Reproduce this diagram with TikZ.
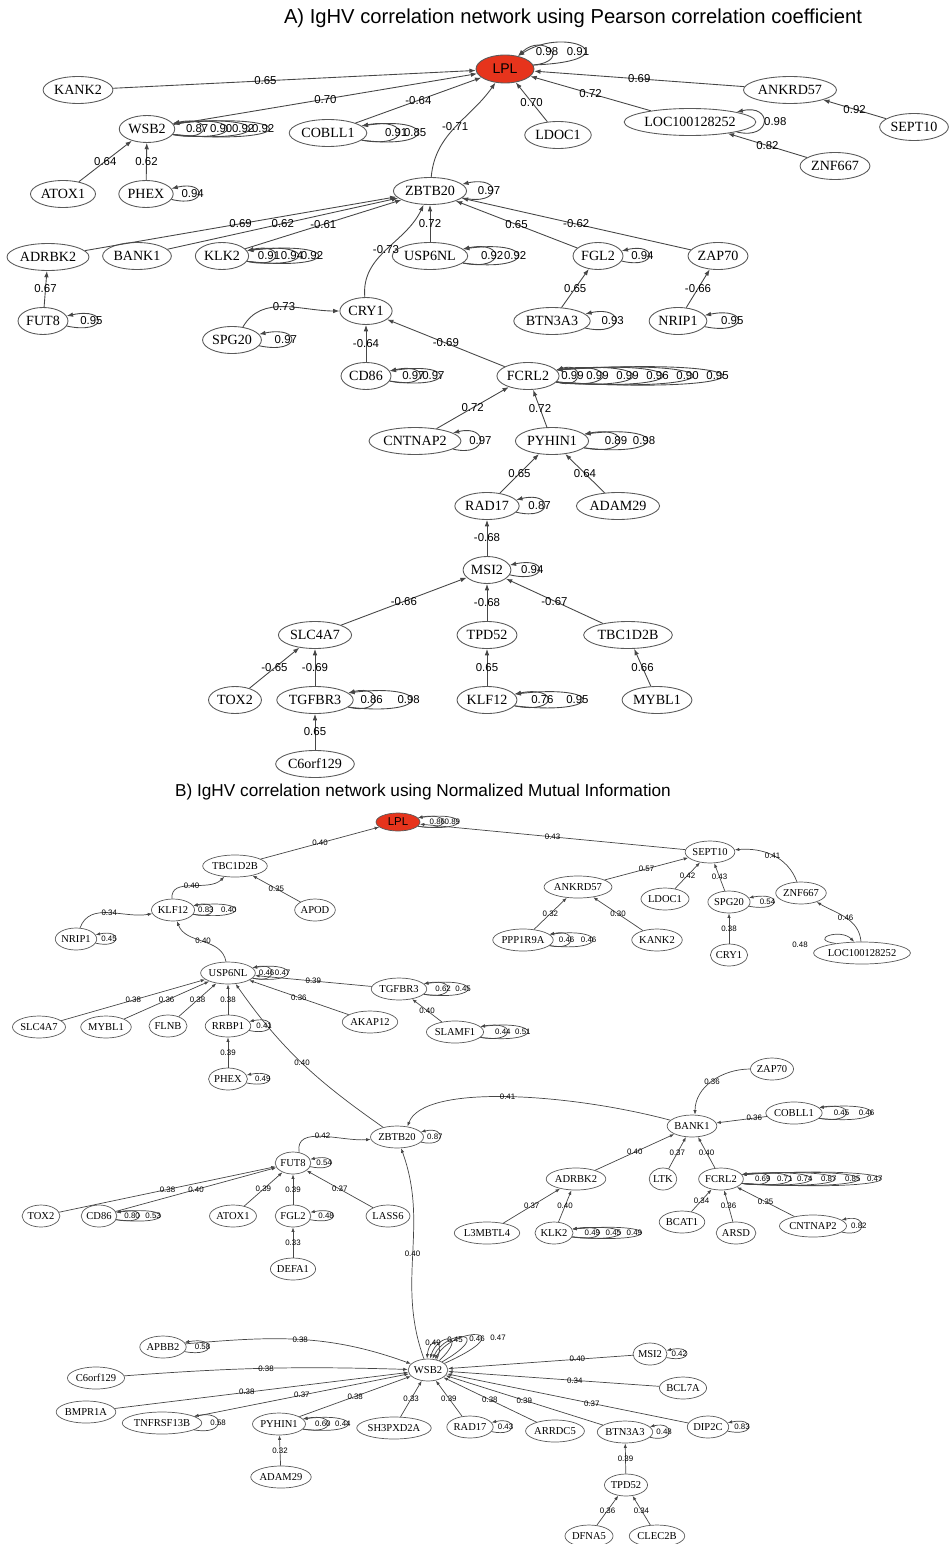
\documentclass[tikz,border=0pt]{standalone}
\usepackage{fontspec}
\setmainfont{Liberation Serif}
\setsansfont{Liberation Sans}
\usepackage{tikz}
\usetikzlibrary{arrows.meta}
\usetikzlibrary{shapes.geometric}
\usetikzlibrary{calc}

\definecolor{lplred}{RGB}{230,52,28}
\definecolor{edgegray}{RGB}{70,70,70}
\definecolor{rimgray}{RGB}{90,90,90}

\newcommand{\loopht}{8}
\newcommand{\geneloop}[4][]{%
  \draw[arr,#1] (#2.-12) .. controls +({(#3+8)/0.75},{\loopht+0.04*#3}) and +({(#3+8)/0.75},{-\loopht-0.04*#3}) .. (#2.12);
  \node[lab] at ($(#2.east)+(#3,0)$) {#4};}

\begin{document}
\begin{tikzpicture}[x=0.02cm,y=-0.02cm,
  title/.style={font=\sffamily\fontsize{11.5}{13}\selectfont}]
\useasboundingbox (0,0) rectangle (949,1544);

\node[title] (titleA) at (573,18) {A) IgHV correlation network using Pearson correlation coefficient};
\node[title,font=\sffamily\fontsize{9.8}{11}\selectfont] (titleB) at (423,792) {B) IgHV correlation network using Normalized Mutual Information};

% A) Pearson
\begin{scope}[
  gene/.style={ellipse,draw=rimgray,line width=0.5pt,inner xsep=0.5pt,inner ysep=0pt,
    minimum height=0.54cm,font=\fontsize{8}{9}\selectfont},
  lab/.style={font=\sffamily\fontsize{6.5}{7}\selectfont,inner sep=0pt},
  arr/.style={draw=edgegray,line width=0.5pt,-{Latex[length=3.6pt,width=2.6pt]}}]

\node[gene,fill=lplred,font=\sffamily\fontsize{8}{9}\selectfont,minimum width=1.16cm,minimum height=0.56cm] (lplA) at (505,69) {LPL};
\node[gene] (kank2A) at (78,90) {KANK2};
\node[gene] (wsb2A) at (147,129) {WSB2};
\node[gene] (cobll1A) at (328,133) {COBLL1};
\node[gene] (ldoc1A) at (558,135) {LDOC1};
\node[gene] (ankrd57A) at (790,90) {ANKRD57};
\node[gene] (locA) at (690,122) {LOC100128252};
\node[gene] (sept10A) at (914,127) {SEPT10};
\node[gene] (znf667A) at (835,166) {ZNF667};
\node[gene] (atox1A) at (63,194) {ATOX1};
\node[gene] (phexA) at (146,194) {PHEX};
\node[gene] (zbtb20A) at (430,191) {ZBTB20};
\node[gene] (adrbk2A) at (48,257) {ADRBK2};
\node[gene] (bank1A) at (137,256) {BANK1};
\node[gene] (klk2A) at (222,256) {KLK2};
\node[gene] (usp6nlA) at (430,256) {USP6NL};
\node[gene] (fgl2A) at (598,256) {FGL2};
\node[gene] (zap70A) at (718,256) {ZAP70};
\node[gene] (fut8A) at (43,321) {FUT8};
\node[gene] (btn3a3A) at (552,321) {BTN3A3};
\node[gene] (nrip1A) at (678,321) {NRIP1};
\node[gene] (cry1A) at (366,311) {CRY1};
\node[gene] (spg20A) at (232,340) {SPG20};
\node[gene] (cd86A) at (366,376) {CD86};
\node[gene] (fcrl2A) at (528,376) {FCRL2};
\node[gene] (cntnap2A) at (415,441) {CNTNAP2};
\node[gene] (pyhin1A) at (552,441) {PYHIN1};
\node[gene] (rad17A) at (487,506) {RAD17};
\node[gene] (adam29A) at (618,506) {ADAM29};
\node[gene] (msi2A) at (487,570) {MSI2};
\node[gene] (slc4a7A) at (315,635) {SLC4A7};
\node[gene] (tpd52A) at (487,635) {TPD52};
\node[gene] (tbc1d2bA) at (628,635) {TBC1D2B};
\node[gene] (tox2A) at (235,700) {TOX2};
\node[gene] (tgfbr3A) at (315,700) {TGFBR3};
\node[gene] (klf12A) at (487,700) {KLF12};
\node[gene] (mybl1A) at (657,700) {MYBL1};
\node[gene] (c6orfA) at (315,764) {C6orf129};

\draw[arr] (kank2A) -- node[lab,pos=0.42] {0.65} (lplA);
\draw[arr] (wsb2A) -- node[lab] {0.70} (lplA);
\draw[arr] (cobll1A) -- node[lab] {-0.64} (lplA);
\draw[arr] (zbtb20A) to[out=85,in=235] node[lab] {-0.71} (lplA);
\draw[arr] (ldoc1A) -- node[lab] {0.70} (lplA);
\draw[arr] (locA) -- node[lab] {0.72} (lplA);
\draw[arr] (ankrd57A) -- node[lab] {0.69} (lplA);
\draw[arr] (sept10A) -- node[lab] {0.92} (ankrd57A);
\draw[arr] (znf667A) -- node[lab] {0.82} (locA);
\draw[arr] (atox1A) -- node[lab] {0.64} (wsb2A);
\draw[arr] (phexA) -- node[lab] {0.62} (wsb2A);
\draw[arr] (adrbk2A) -- node[lab] {0.69} (zbtb20A);
\draw[arr] (bank1A) -- node[lab] {0.62} (zbtb20A);
\draw[arr] (klk2A) -- node[lab] {-0.61} (zbtb20A);
\draw[arr] (usp6nlA) -- node[lab] {0.72} (zbtb20A);
\draw[arr] (cry1A) to[out=95,in=245] node[lab] {-0.73} (zbtb20A);
\draw[arr] (fgl2A) -- node[lab] {0.65} (zbtb20A);
\draw[arr] (zap70A) -- node[lab] {-0.62} (zbtb20A);
\draw[arr] (fut8A) -- node[lab] {0.67} (adrbk2A);
\draw[arr] (btn3a3A) -- node[lab] {0.65} (fgl2A);
\draw[arr] (nrip1A) -- node[lab] {-0.66} (zap70A);
\draw[arr] (spg20A.50) to[out=60,in=180] node[lab] {0.73} (cry1A);
\draw[arr] (cd86A) -- node[lab] {-0.64} (cry1A);
\draw[arr] (fcrl2A) -- node[lab] {-0.69} (cry1A);
\draw[arr] (cntnap2A) -- node[lab] {0.72} (fcrl2A);
\draw[arr] (pyhin1A) -- node[lab] {0.72} (fcrl2A);
\draw[arr] (rad17A) -- node[lab] {0.65} (pyhin1A);
\draw[arr] (adam29A) -- node[lab] {0.64} (pyhin1A);
\draw[arr] (msi2A) -- node[lab] {-0.68} (rad17A);
\draw[arr] (slc4a7A) -- node[lab] {-0.66} (msi2A);
\draw[arr] (tpd52A) -- node[lab] {-0.68} (msi2A);
\draw[arr] (tbc1d2bA) -- node[lab] {-0.67} (msi2A);
\draw[arr] (tox2A) -- node[lab] {-0.65} (slc4a7A);
\draw[arr] (tgfbr3A) -- node[lab] {-0.69} (slc4a7A);
\draw[arr] (klf12A) -- node[lab] {0.65} (tpd52A);
\draw[arr] (mybl1A) -- node[lab] {0.66} (tbc1d2bA);
\draw[arr] (c6orfA) -- node[lab] {0.65} (tgfbr3A);

% self loops
\draw[arr] (lplA.8) .. controls +(40,-4) and +(25,-24) .. (lplA.45);
\draw[arr] (lplA.8) .. controls +(100,-4) and +(50,-32) .. (lplA.45);
\node[lab] at (547,52) {0.98};
\node[lab] at (578,52) {0.91};
\geneloop{wsb2A}{22}{0.87}
\geneloop{wsb2A}{46}{0.90}
\geneloop{wsb2A}{68}{0.92}
\geneloop{wsb2A}{88}{0.92}
\geneloop{cobll1A}{29}{0.91}
\geneloop{cobll1A}{48}{0.85}
\geneloop{locA}{19}{0.98}
\geneloop{phexA}{19}{0.94}
\geneloop{zbtb20A}{22}{0.97}
\geneloop{klk2A}{20}{0.91}
\geneloop{klk2A}{43}{0.94}
\geneloop{klk2A}{63}{0.92}
\geneloop{usp6nlA}{24}{0.92}
\geneloop{usp6nlA}{47}{0.92}
\geneloop{fgl2A}{19}{0.94}
\geneloop{fut8A}{23}{0.95}
\geneloop{btn3a3A}{22}{0.93}
\geneloop{nrip1A}{25}{0.95}
\geneloop{spg20A}{24}{0.97}
\geneloop{cd86A}{22}{0.97}
\geneloop{cd86A}{42}{0.97}
\geneloop{fcrl2A}{13}{0.99}
\geneloop{fcrl2A}{38}{0.99}
\geneloop{fcrl2A}{68}{0.99}
\geneloop{fcrl2A}{98}{0.96}
\geneloop{fcrl2A}{128}{0.90}
\geneloop{fcrl2A}{158}{0.95}
\geneloop{cntnap2A}{19}{0.97}
\geneloop{pyhin1A}{27}{0.89}
\geneloop{pyhin1A}{55}{0.98}
\geneloop{rad17A}{20}{0.87}
\geneloop{msi2A}{21}{0.94}
\geneloop{tgfbr3A}{18}{0.86}
\geneloop{tgfbr3A}{55}{0.98}
\geneloop{klf12A}{25}{0.76}
\geneloop{klf12A}{60}{0.95}
\end{scope}

% B) mutual information
\begin{scope}[
  gene/.style={ellipse,draw=rimgray,line width=0.4pt,inner xsep=0pt,inner ysep=0pt,
    minimum height=0.44cm,font=\fontsize{6}{7}\selectfont},
  lab/.style={font=\sffamily\fontsize{4.5}{5}\selectfont,inner sep=0pt},
  arr/.style={draw=edgegray,line width=0.4pt,-{Latex[length=2.6pt,width=1.9pt]}}]
\renewcommand{\loopht}{5.5}

\node[gene,fill=lplred,font=\sffamily\fontsize{6.5}{7}\selectfont,minimum width=0.88cm,minimum height=0.36cm] (lplB) at (398,822) {LPL};
\node[gene] (sept10B) at (710,852) {SEPT10};
\node[gene] (tbc1d2bB) at (235,866) {TBC1D2B};
\node[gene] (ankrd57B) at (578,887) {ANKRD57};
\node[gene] (ldoc1B) at (665,899) {LDOC1};
\node[gene] (spg20B) at (729,902) {SPG20};
\node[gene] (znf667B) at (801,893) {ZNF667};
\node[gene] (klf12B) at (173,910) {KLF12};
\node[gene] (apodB) at (315,910) {APOD};
\node[gene] (nrip1B) at (76,939) {NRIP1};
\node[gene] (ppp1r9aB) at (523,940) {PPP1R9A};
\node[gene] (kank2B) at (657,940) {KANK2};
\node[gene] (cry1B) at (729,955) {CRY1};
\node[gene] (locB) at (862,953) {LOC100128252};
\node[gene] (usp6nlB) at (228,973) {USP6NL};
\node[gene] (tgfbr3B) at (399,989) {TGFBR3};
\node[gene] (slc4a7B) at (39,1027) {SLC4A7};
\node[gene] (mybl1B) at (106,1027) {MYBL1};
\node[gene] (flnbB) at (168,1026) {FLNB};
\node[gene] (rrbp1B) at (228,1026) {RRBP1};
\node[gene] (akap12B) at (370,1022) {AKAP12};
\node[gene] (slamf1B) at (455,1032) {SLAMF1};
\node[gene] (phexB) at (228,1079) {PHEX};
\node[gene] (zap70B) at (772,1069) {ZAP70};
\node[gene] (cobll1B) at (794,1113) {COBLL1};
\node[gene] (bank1B) at (692,1126) {BANK1};
\node[gene] (zbtb20B) at (397,1137) {ZBTB20};
\node[gene] (fut8B) at (293,1163) {FUT8};
\node[gene] (adrbk2B) at (576,1179) {ADRBK2};
\node[gene] (ltkB) at (663,1179) {LTK};
\node[gene] (fcrl2B) at (721,1179) {FCRL2};
\node[gene] (tox2B) at (41,1216) {TOX2};
\node[gene] (cd86B) at (99,1216) {CD86};
\node[gene] (atox1B) at (233,1216) {ATOX1};
\node[gene] (fgl2B) at (293,1216) {FGL2};
\node[gene] (lass6B) at (388,1216) {LASS6};
\node[gene] (bcat1B) at (682,1222) {BCAT1};
\node[gene] (cntnap2B) at (813,1226) {CNTNAP2};
\node[gene] (l3mbtl4B) at (487,1233) {L3MBTL4};
\node[gene] (klk2B) at (554,1233) {KLK2};
\node[gene] (arsdB) at (736,1233) {ARSD};
\node[gene] (defa1B) at (293,1269) {DEFA1};
\node[gene] (apbb2B) at (163,1347) {APBB2};
\node[gene] (msi2B) at (650,1354) {MSI2};
\node[gene] (wsb2B) at (428,1370) {WSB2};
\node[gene] (c6orfB) at (96,1378) {C6orf129};
\node[gene] (bcl7aB) at (683,1388) {BCL7A};
\node[gene] (bmpr1aB) at (86,1412) {BMPR1A};
\node[gene] (tnfrsf13bB) at (162,1423) {TNFRSF13B};
\node[gene] (pyhin1B) at (279,1424) {PYHIN1};
\node[gene] (sh3pxd2aB) at (394,1428) {SH3PXD2A};
\node[gene] (rad17B) at (470,1427) {RAD17};
\node[gene] (arrdc5B) at (555,1431) {ARRDC5};
\node[gene] (btn3a3B) at (625,1432) {BTN3A3};
\node[gene] (dip2cB) at (708,1427) {DIP2C};
\node[gene] (adam29B) at (281,1477) {ADAM29};
\node[gene] (tpd52B) at (626,1485) {TPD52};
\node[gene] (dfna5B) at (589,1536) {DFNA5};
\node[gene] (clec2bB) at (657,1536) {CLEC2B};

\draw[arr] (tbc1d2bB) -- node[lab] {0.40} (lplB);
\draw[arr] (sept10B) -- node[lab] {0.43} (lplB);
\draw[arr] (klf12B) to[out=95,in=225] node[lab] {0.40} (tbc1d2bB);
\draw[arr] (apodB) -- node[lab] {0.35} (tbc1d2bB);
\draw[arr] (nrip1B) to[out=70,in=190] node[lab] {0.34} (klf12B);
\draw[arr] (usp6nlB) to[out=100,in=-70] node[lab] {0.40} (klf12B);
\draw[arr] (slc4a7B) -- node[lab] {0.38} (usp6nlB);
\draw[arr] (mybl1B) -- node[lab] {0.36} (usp6nlB);
\draw[arr] (flnbB) -- node[lab] {0.38} (usp6nlB);
\draw[arr] (rrbp1B) -- node[lab] {0.38} (usp6nlB);
\draw[arr] (akap12B) -- node[lab] {0.36} (usp6nlB);
\draw[arr] (tgfbr3B) -- node[lab] {0.39} (usp6nlB);
\draw[arr] (zbtb20B) to[out=145,in=-55] node[lab] {0.40} (usp6nlB);
\draw[arr] (slamf1B) -- node[lab] {0.40} (tgfbr3B);
\draw[arr] (phexB) -- node[lab] {0.39} (rrbp1B);
\draw[arr] (ankrd57B) -- node[lab] {0.57} (sept10B);
\draw[arr] (ldoc1B) -- node[lab] {0.42} (sept10B);
\draw[arr] (spg20B) -- node[lab] {0.43} (sept10B);
\draw[arr] (znf667B) to[out=110,in=5] node[lab] {0.41} (sept10B);
\draw[arr] (ppp1r9aB) -- node[lab] {0.32} (ankrd57B);
\draw[arr] (kank2B) -- node[lab] {0.30} (ankrd57B);
\draw[arr] (cry1B) -- node[lab] {0.38} (spg20B);
\draw[arr] (locB) to[out=95,in=-30] node[lab] {0.46} (znf667B);
\draw[arr] (bank1B) to[out=165,in=70,out looseness=1,in looseness=0.45] node[lab] {0.41} (zbtb20B.45);
\draw[arr] (wsb2B) to[out=110,in=-70] node[lab] {0.40} (zbtb20B);
\draw[arr] (fut8B.60) to[out=100,in=185] node[lab] {0.42} (zbtb20B);
\draw[arr] (tox2B) -- node[lab] {0.38} (fut8B);
\draw[arr] (cd86B) -- node[lab] {0.40} (fut8B);
\draw[arr] (atox1B) -- node[lab] {0.39} (fut8B);
\draw[arr] (fgl2B) -- node[lab] {0.39} (fut8B);
\draw[arr] (lass6B) -- node[lab] {0.37} (fut8B);
\draw[arr] (defa1B) -- node[lab] {0.33} (fgl2B);
\draw[arr] (zap70B) to[out=180,in=90] node[lab] {0.36} (bank1B.75);
\draw[arr] (cobll1B) -- node[lab,pos=0.25] {0.36} (bank1B);
\draw[arr] (adrbk2B) -- node[lab] {0.40} (bank1B);
\draw[arr] (ltkB) -- node[lab] {0.37} (bank1B);
\draw[arr] (fcrl2B) -- node[lab] {0.40} (bank1B);
\draw[arr] (l3mbtl4B) -- node[lab] {0.37} (adrbk2B);
\draw[arr] (klk2B) -- node[lab] {0.40} (adrbk2B);
\draw[arr] (bcat1B) -- node[lab] {0.34} (fcrl2B);
\draw[arr] (arsdB) -- node[lab] {0.36} (fcrl2B);
\draw[arr] (cntnap2B) -- node[lab] {0.35} (fcrl2B);
\draw[arr] (apbb2B.8) to[out=5,in=160] node[lab] {0.38} (wsb2B);
\draw[arr] (c6orfB) to[bend left=3] node[lab] {0.38} (wsb2B);
\draw[arr] (bmpr1aB) -- node[lab,pos=0.45] {0.38} (wsb2B);
\draw[arr] (tnfrsf13bB) -- node[lab] {0.37} (wsb2B);
\draw[arr] (pyhin1B) -- node[lab] {0.38} (wsb2B);
\draw[arr] (adam29B) -- node[lab] {0.32} (pyhin1B);
\draw[arr] (sh3pxd2aB) -- node[lab] {0.33} (wsb2B);
\draw[arr] (rad17B) -- node[lab] {0.39} (wsb2B);
\draw[arr] (arrdc5B) -- node[lab] {0.38} (wsb2B);
\draw[arr] (btn3a3B) -- node[lab] {0.39} (wsb2B);
\draw[arr] (dip2cB) -- node[lab,pos=0.4] {0.37} (wsb2B);
\draw[arr] (msi2B) -- node[lab,pos=0.3] {0.40} (wsb2B);
\draw[arr] (bcl7aB) -- node[lab,pos=0.4] {0.34} (wsb2B);
\draw[arr] (tpd52B) -- node[lab] {0.39} (btn3a3B);
\draw[arr] (dfna5B) -- node[lab] {0.36} (tpd52B);
\draw[arr] (clec2bB) -- node[lab] {0.34} (tpd52B);

% self loops
\draw[arr] (wsb2B.50) .. controls +(10,-22) and +(2,-22) .. (wsb2B.95);
\draw[arr] (wsb2B.40) .. controls +(30,-28) and +(8,-26) .. (wsb2B.80);
\draw[arr] (wsb2B.30) .. controls +(55,-32) and +(14,-30) .. (wsb2B.68);
\draw[arr] (wsb2B.22) .. controls +(80,-36) and +(20,-34) .. (wsb2B.58);
\node[lab] at (433,1343) {0.49};
\node[lab] at (455,1340) {0.45};
\node[lab] at (477,1339) {0.46};
\node[lab] at (498,1338) {0.47};
\draw[arr] (locB.160) .. controls +(-28,-4) and +(-14,-14) .. (locB.125);
\node[lab] at (800,945) {0.48};
\geneloop{lplB}{17}{0.86}
\geneloop{lplB}{32}{0.89}
\geneloop{klf12B}{11}{0.83}
\geneloop{klf12B}{34}{0.40}
\geneloop{nrip1B}{12}{0.45}
\geneloop{usp6nlB}{11}{0.46}
\geneloop{usp6nlB}{27}{0.47}
\geneloop{tgfbr3B}{16}{0.62}
\geneloop{tgfbr3B}{36}{0.45}
\geneloop{slamf1B}{19}{0.44}
\geneloop{slamf1B}{39}{0.51}
\geneloop{rrbp1B}{13}{0.41}
\geneloop{phexB}{15}{0.49}
\geneloop{spg20B}{17}{0.54}
\geneloop{ppp1r9aB}{13}{0.46}
\geneloop{ppp1r9aB}{35}{0.46}
\geneloop{zbtb20B}{11}{0.87}
\geneloop{fut8B}{13}{0.54}
\geneloop{cd86B}{15}{0.80}
\geneloop{cd86B}{36}{0.53}
\geneloop{fgl2B}{15}{0.48}
\geneloop{cobll1B}{19}{0.45}
\geneloop{cobll1B}{44}{0.46}
\geneloop{fcrl2B}{19}{0.69}
\geneloop{fcrl2B}{41}{0.71}
\geneloop{fcrl2B}{61}{0.74}
\geneloop{fcrl2B}{85}{0.87}
\geneloop{fcrl2B}{109}{0.85}
\geneloop{fcrl2B}{131}{0.47}
\geneloop{klk2B}{19}{0.49}
\geneloop{klk2B}{40}{0.45}
\geneloop{klk2B}{61}{0.49}
\geneloop{cntnap2B}{12}{0.82}
\geneloop{apbb2B}{16}{0.58}
\geneloop{tnfrsf13bB}{16}{0.58}
\geneloop{pyhin1B}{17}{0.60}
\geneloop{pyhin1B}{37}{0.44}
\geneloop{rad17B}{12}{0.43}
\geneloop{btn3a3B}{11}{0.48}
\geneloop{dip2cB}{13}{0.83}
\geneloop{msi2B}{12}{0.42}
\end{scope}

\end{tikzpicture}
\end{document}
